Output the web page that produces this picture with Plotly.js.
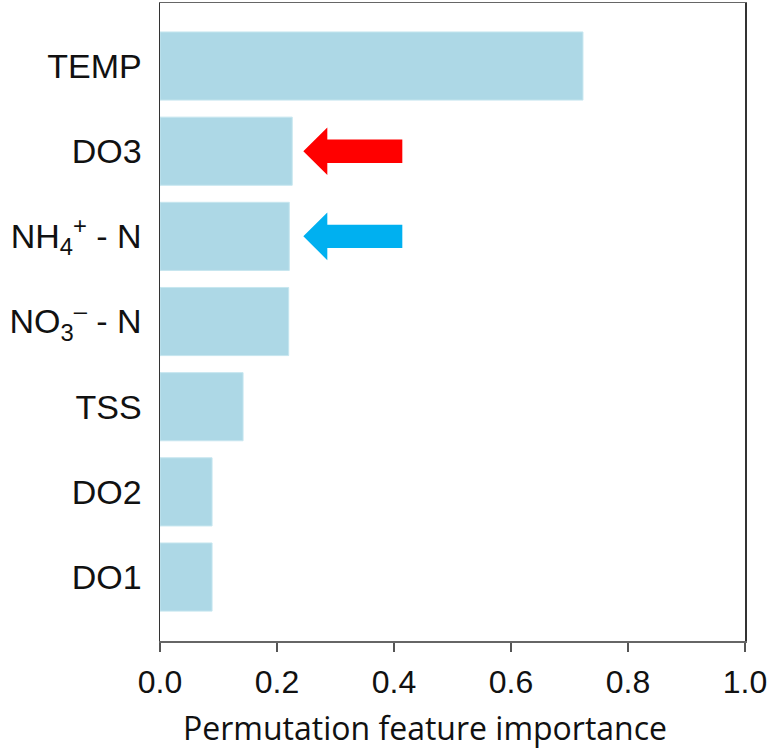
<!DOCTYPE html>
<html>
<head>
<meta charset="utf-8">
<script src="https://cdn.plot.ly/plotly-3.0.1.min.js"></script>
<style>
  html, body { margin: 0; padding: 0; background: #fff; }
  #chart { width: 769px; height: 750px; }
</style>
</head>
<body>
<div id="chart"></div>
<script>
// Features, listed from top to bottom
const features = ["TEMP", "DO3", "NH4", "NO3", "TSS", "DO2", "DO1"];
const featureLabels = [
  "TEMP",
  "DO3",
  "NH<sub>4</sub><sup>+</sup> - N",
  "NO<sub>3</sub><sup>\u2013</sup> - N",
  "TSS",
  "DO2",
  "DO1"
];
const importance = [0.723, 0.226, 0.221, 0.220, 0.142, 0.089, 0.089];

// Highlighted features and arrow colours
const highlighted = ["DO3", "NH4"];
const arrowColors = ["#FF0000", "#00B0F0"];
const arrowTipValue = 0.245;

const xTicks = [0, 0.2, 0.4, 0.6, 0.8, 1.0];

const bars = {
  type: "bar",
  orientation: "h",
  x: importance,
  y: features,
  width: 0.8,
  marker: { color: "#ADD8E6", line: { color: "#C6E6EF", width: 1 } },
  hoverinfo: "skip"
};

// Block arrows drawn in pixels, anchored at the tip
const arrowPath = "M0,0 L24,23.8 L24,11.7 L99,11.7 L99,-11.7 L24,-11.7 L24,-23.8 Z";
const shapes = highlighted.map((f, i) => ({
  type: "path",
  xref: "x", yref: "y",
  xsizemode: "pixel", ysizemode: "pixel",
  xanchor: arrowTipValue, yanchor: f,
  path: arrowPath,
  fillcolor: arrowColors[i],
  line: { width: 0 }
}));

const layout = {
  width: 769,
  height: 750,
  margin: { l: 160, r: 24, t: 3, b: 109 },
  paper_bgcolor: "#fff",
  plot_bgcolor: "#fff",
  showlegend: false,
  bargap: 0.2,
  xaxis: {
    range: [0, 1.0],
    tickvals: xTicks,
    ticktext: xTicks.map(v => v.toFixed(1)),
    ticks: "outside",
    ticklen: 9,
    tickwidth: 1.5,
    tickcolor: "#555",
    ticklabelstandoff: 3,
    tickfont: { family: "Liberation Sans, Arial, sans-serif", size: 32, color: "#111" },
    showgrid: false,
    zeroline: false,
    showline: true,
    linecolor: "#666",
    linewidth: 1.5,
    mirror: true
  },
  yaxis: {
    type: "category",
    categoryorder: "array",
    categoryarray: features,
    range: [6.751, -0.74],
    tickvals: features,
    ticktext: featureLabels,
    ticks: "",
    ticklabelstandoff: 10,
    tickfont: { family: "Liberation Sans, Arial, sans-serif", size: 34, color: "#111" },
    showgrid: false,
    zeroline: false,
    showline: true,
    linecolor: "#333",
    linewidth: 1.5,
    mirror: true
  },
  shapes: shapes,
  annotations: [{
    text: "Permutation feature importance",
    xref: "paper", yref: "paper",
    x: 0.453, y: 0,
    xanchor: "center", yanchor: "top",
    yshift: -64,
    showarrow: false,
    borderpad: 0,
    font: { family: "Open Sans, sans-serif", size: 32, color: "#111" }
  }]
};

Plotly.newPlot("chart", [bars], layout, { displayModeBar: false, staticPlot: true });
</script>
</body>
</html>
